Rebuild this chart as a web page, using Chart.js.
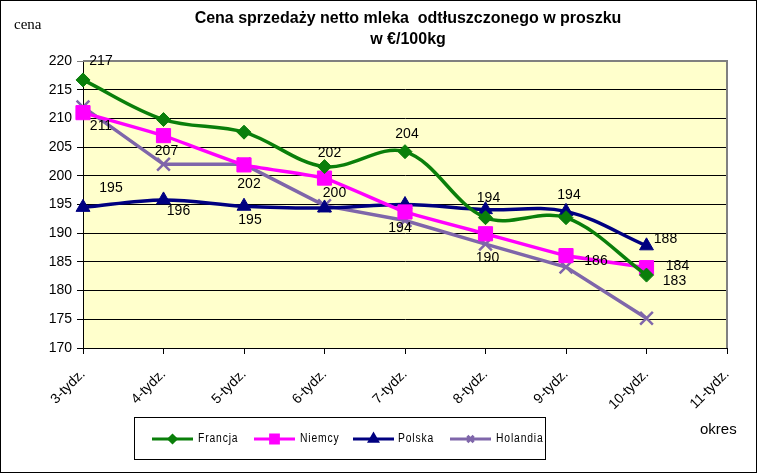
<!DOCTYPE html>
<html>
<head>
<meta charset="utf-8">
<script src="https://cdn.jsdelivr.net/npm/chart.js@4"></script>
<style>
html,body{margin:0;padding:0;background:#fff;}
#wrap{position:relative;width:757px;height:473px;}
canvas{display:block;}
</style>
</head>
<body>
<div id="wrap"><canvas id="c" width="757" height="473"></canvas></div>
<script>
const categories = ['3-tydz.','4-tydz.','5-tydz.','6-tydz.','7-tydz.','8-tydz.','9-tydz.','10-tydz.','11-tydz.'];
const francja  = [216.7, 209.8, 207.6, 201.6, 204.2, 192.7, 192.7, 182.7, null];
const niemcy   = [211.0, 207.0, 201.9, 199.6, 193.7, 189.9, 186.1, 184.0, null];
const polska   = [194.5, 195.8, 194.7, 194.4, 195.0, 194.1, 193.8, 187.8, null];
const holandia = [212.0, 202.0, 202.0, 194.8, 192.2, 188.1, 184.1, 175.2, null];
const yTicks   = [170, 175, 180, 185, 190, 195, 200, 205, 210, 215, 220];

const seriesNames = ['Francja','Niemcy','Polska','Holandia'];
const colors = ['#0A7F0A','#FF00FF','#000080','#7F66AA'];

// value labels: [datasetIndex, pointIndex, dx, dy]
const labelSpec = [
  [0,0,18,-19],[0,3,5,-13],[0,4,2,-18],[0,7,28,6],
  [1,0,18,13],[1,1,3,16],[1,2,5,19],[1,3,10,15],[1,4,-5,16],[1,5,2,24],[1,6,30,6],[1,7,31,-1],
  [2,0,28,-19],[2,1,15,11],[2,2,6,14],[2,5,3,-12],[2,6,3,-16],[2,7,19,-7]
];

const FONT = '"Liberation Sans", Arial, sans-serif';

const decor = {
  id: 'decor',
  beforeDraw(chart) {
    const {ctx, chartArea: a} = chart;
    ctx.save();
    ctx.fillStyle = '#fff';
    ctx.fillRect(0, 0, chart.width, chart.height);
    ctx.fillStyle = '#FFFFCC';
    ctx.fillRect(a.left, a.top, a.right - a.left, a.bottom - a.top);
    ctx.restore();
  },
  afterDraw(chart) {
    const {ctx, chartArea: a} = chart;
    ctx.save();
    // plot border (top/right gray)
    ctx.strokeStyle = '#808080';
    ctx.lineWidth = 2;
    ctx.beginPath();
    ctx.moveTo(a.left, a.top);
    ctx.lineTo(a.right, a.top);
    ctx.lineTo(a.right, a.bottom);
    ctx.stroke();
    // outer frame
    ctx.strokeStyle = '#000';
    ctx.lineWidth = 1;
    ctx.strokeRect(0.5, 0.5, chart.width - 1, chart.height - 1);
    // title
    ctx.fillStyle = '#000';
    ctx.textAlign = 'center';
    ctx.textBaseline = 'middle';
    ctx.font = 'bold 16px ' + FONT;
    ctx.fillText('Cena sprzedaży netto mleka  odtłuszczonego w proszku', 408, 19);
    ctx.fillText('w €/100kg', 408, 40);
    // axis titles
    ctx.textAlign = 'left';
    ctx.font = '15px "Liberation Serif", "Times New Roman", serif';
    ctx.fillText('cena', 14, 25);
    ctx.font = '15px ' + FONT;
    ctx.fillText('okres', 700, 430);
    // value labels
    ctx.font = '14px ' + FONT;
    ctx.textAlign = 'center';
    labelSpec.forEach(([d, i, dx, dy]) => {
      const meta = chart.getDatasetMeta(d);
      const pt = meta.data[i];
      const v = chart.data.datasets[d].data[i];
      ctx.fillText(String(Math.round(v)), pt.x + dx, pt.y + dy);
    });
    // legend
    ctx.strokeStyle = '#000';
    ctx.lineWidth = 1;
    ctx.strokeRect(134.5, 417.5, 411, 42);
    const items = [[152, 198], [254, 300], [353, 398], [450, 496]];
    ctx.textAlign = 'left';
    chart.data.datasets.forEach((ds, k) => {
      const [lx, tx] = items[k];
      const y = 439;
      ctx.strokeStyle = ds.borderColor;
      ctx.lineWidth = 3;
      ctx.beginPath();
      ctx.moveTo(lx, y);
      ctx.lineTo(lx + 41, y);
      ctx.stroke();
      const style = ds.pointStyle;
      const r = {rectRot: 3.5, rect: 5.5, triangle: 4.5, crossRot: 4.5}[style];
      ctx.fillStyle = ds.borderColor;
      Chart.helpers.drawPoint(ctx, {pointStyle: style, radius: r, borderWidth: 1, rotation: 0}, lx + 20.5, y);
      ctx.fillStyle = '#000';
      ctx.save();
      ctx.translate(tx, y);
      ctx.scale(0.86, 1);
      ctx.font = '12px ' + FONT;
      ctx.letterSpacing = '1px';
      ctx.fillText(ds.label, 0, 0);
      ctx.restore();
    });
    ctx.restore();
  }
};

function mk(label, data, color, style, radius, tension) {
  return {
    label, data,
    borderColor: color,
    backgroundColor: color,
    pointBackgroundColor: color,
    pointBorderColor: color,
    pointStyle: style,
    pointRadius: radius,
    pointHoverRadius: radius,
    pointBorderWidth: style === 'crossRot' ? 2.5 : 1,
    borderWidth: 3.5,
    tension: tension,
    cubicInterpolationMode: 'default',
    spanGaps: false
  };
}

new Chart(document.getElementById('c'), {
  type: 'line',
  data: {
    labels: categories,
    datasets: [
      mk(seriesNames[0], francja, colors[0], 'rectRot', 7, 0.35),
      mk(seriesNames[1], niemcy, colors[1], 'rect', 10, 0.12),
      mk(seriesNames[2], polska, colors[2], 'triangle', 8, 0.35),
      mk(seriesNames[3], holandia, colors[3], 'crossRot', 9, 0)
    ]
  },
  options: {
    responsive: false,
    animation: false,
    events: [],
    layout: {padding: {left: 0, top: 61, right: 30, bottom: 0}},
    plugins: {legend: {display: false}, title: {display: false}, tooltip: {enabled: false}},
    scales: {
      x: {
        type: 'category',
        offset: false,
        grid: {display: true, drawOnChartArea: false, drawTicks: true, tickLength: 6, color: '#000', lineWidth: 1},
        border: {display: true, color: '#000', width: 1},
        ticks: {color: '#000', font: {family: FONT, size: 14}, minRotation: 45, maxRotation: 45, autoSkip: false, padding: 12},
        afterFit(s) { s.height = 125; }
      },
      y: {
        min: 170, max: 220,
        afterBuildTicks(s) { s.ticks = yTicks.map(v => ({value: v})); },
        grid: {
          color: (c) => (c.tick && c.tick.value === 220) ? '#808080' : '#000',
          lineWidth: 1, drawTicks: true, tickLength: 6
        },
        border: {display: true, color: '#000', width: 1},
        ticks: {color: '#000', font: {family: FONT, size: 14}, padding: 5},
        afterFit(s) { s.width = 83; }
      }
    }
  },
  plugins: [decor]
});
</script>
</body>
</html>
